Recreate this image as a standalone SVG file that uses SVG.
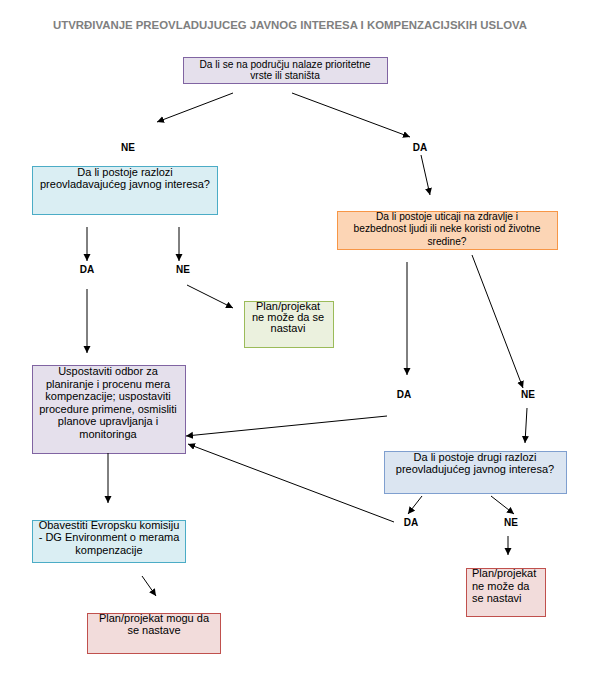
<svg xmlns="http://www.w3.org/2000/svg" width="589" height="675" viewBox="0 0 589 675">
<style>
text{font-family:"Liberation Sans",Arial,sans-serif;font-size:11px;fill:#000}
.c{text-anchor:middle}
.s{font-size:10.2px}
.lbl{font-weight:bold;font-size:10px;text-anchor:middle}
.title{font-weight:bold;font-size:10.5px;fill:#7f7f7f;text-anchor:middle}
.pur{fill:#e5e0ec;stroke:#8064a2;stroke-width:1}
.aq{fill:#daeef3;stroke:#4bacc6;stroke-width:1}
.grn{fill:#ebf1de;stroke:#9bbb59;stroke-width:1}
.org{fill:#fcd5b5;stroke:#f79646;stroke-width:1}
.red{fill:#f2dcdb;stroke:#c0504d;stroke-width:1}
.blu{fill:#dbe5f1;stroke:#7f9fcf;stroke-width:1}
#connectors line{stroke:#000;stroke-width:1;marker-end:url(#ah)}
</style>
<defs>
<marker id="ah" markerUnits="userSpaceOnUse" markerWidth="8" markerHeight="8" refX="7" refY="3.5" orient="auto">
<path d="M0,0 L7,3.5 L0,7 z" fill="#000"/>
</marker>
</defs>
<rect width="589" height="675" fill="#fff"/>
<text class="title" x="290" y="29" textLength="474" lengthAdjust="spacingAndGlyphs">UTVRĐIVANJE PREOVLADUJUCEG JAVNOG INTERESA I KOMPENZACIJSKIH USLOVA</text>

<g id="n1">
<rect class="pur" x="183.5" y="57.5" width="204" height="26"/>
<text class="c s" x="285" y="68">Da li se na području nalaze prioritetne</text>
<text class="c s" x="285" y="79">vrste ili staništa</text>
</g>
<g id="n2">
<rect class="aq" x="32.5" y="166.5" width="185" height="48"/>
<text class="c" x="125" y="176">Da li postoje razlozi</text>
<text class="c" x="125" y="187.5">preovladavajućeg javnog interesa?</text>
</g>
<g id="n3">
<rect class="grn" x="244.5" y="301.5" width="89" height="46"/>
<text class="c" x="288" y="310">Plan/projekat</text>
<text class="c" x="288" y="321">ne može da se</text>
<text class="c" x="288" y="332">nastavi</text>
</g>
<g id="n4">
<rect class="org" x="337.5" y="211.5" width="220" height="38"/>
<text class="c s" x="447" y="220">Da li postoje uticaji na zdravlje i</text>
<text class="c s" x="447" y="232">bezbednost ljudi ili neke koristi od životne</text>
<text class="c s" x="447" y="245">sredine?</text>
</g>
<g id="n5">
<rect class="pur" x="32.5" y="365.5" width="153" height="88"/>
<text class="c" x="108" y="375">Uspostaviti odbor za</text>
<text class="c" x="108" y="387.5">planiranje i procenu mera</text>
<text class="c" x="108" y="400">kompenzacije; uspostaviti</text>
<text class="c" x="108" y="412.5">procedure primene, osmisliti</text>
<text class="c" x="108" y="425">planove upravljanja i</text>
<text class="c" x="108" y="437.5">monitoringa</text>
</g>
<g id="n6">
<rect class="blu" x="384.5" y="451.5" width="182" height="42"/>
<text class="c" x="475" y="461">Da li postoje drugi razlozi</text>
<text class="c" x="475" y="473">preovladujućeg javnog interesa?</text>
</g>
<g id="n7">
<rect class="aq" x="32.5" y="520.5" width="153" height="42"/>
<text class="c" x="109" y="529">Obavestiti Evropsku komisiju</text>
<text class="c" x="109" y="541">- DG Environment o merama</text>
<text class="c" x="109" y="553.5">kompenzacije</text>
</g>
<g id="n8">
<rect class="red" x="87.5" y="613.5" width="133" height="40"/>
<text class="c" x="154" y="622">Plan/projekat mogu da</text>
<text class="c" x="154" y="634">se nastave</text>
</g>
<g id="n9">
<rect class="red" x="466.5" y="568.5" width="79" height="48"/>
<text x="472" y="577">Plan/projekat</text>
<text x="472" y="590">ne može da</text>
<text x="472" y="602">se nastavi</text>
</g>

<g id="labels">
<text class="lbl" x="128" y="151">NE</text>
<text class="lbl" x="420" y="151">DA</text>
<text class="lbl" x="87" y="273">DA</text>
<text class="lbl" x="183" y="273">NE</text>
<text class="lbl" x="404" y="398">DA</text>
<text class="lbl" x="528" y="398">NE</text>
<text class="lbl" x="411" y="526">DA</text>
<text class="lbl" x="511" y="526">NE</text>
</g>

<g id="connectors">
<line x1="233" y1="93" x2="157" y2="122"/>
<line x1="292" y1="93" x2="410" y2="137"/>
<line x1="421" y1="155" x2="430" y2="195"/>
<line x1="87" y1="227" x2="87" y2="261"/>
<line x1="179" y1="227" x2="179" y2="261"/>
<line x1="187" y1="285" x2="233" y2="308"/>
<line x1="87" y1="289" x2="87" y2="353"/>
<line x1="407" y1="262" x2="407" y2="375"/>
<line x1="472" y1="255" x2="523" y2="388"/>
<line x1="527" y1="408" x2="525" y2="443"/>
<line x1="387" y1="416" x2="186" y2="436"/>
<line x1="394" y1="522" x2="188" y2="444"/>
<line x1="108" y1="453" x2="108" y2="503"/>
<line x1="142" y1="576" x2="156" y2="596"/>
<line x1="422" y1="496" x2="408" y2="514"/>
<line x1="491" y1="496" x2="514" y2="514"/>
<line x1="508" y1="536" x2="508" y2="555"/>
</g>
</svg>
